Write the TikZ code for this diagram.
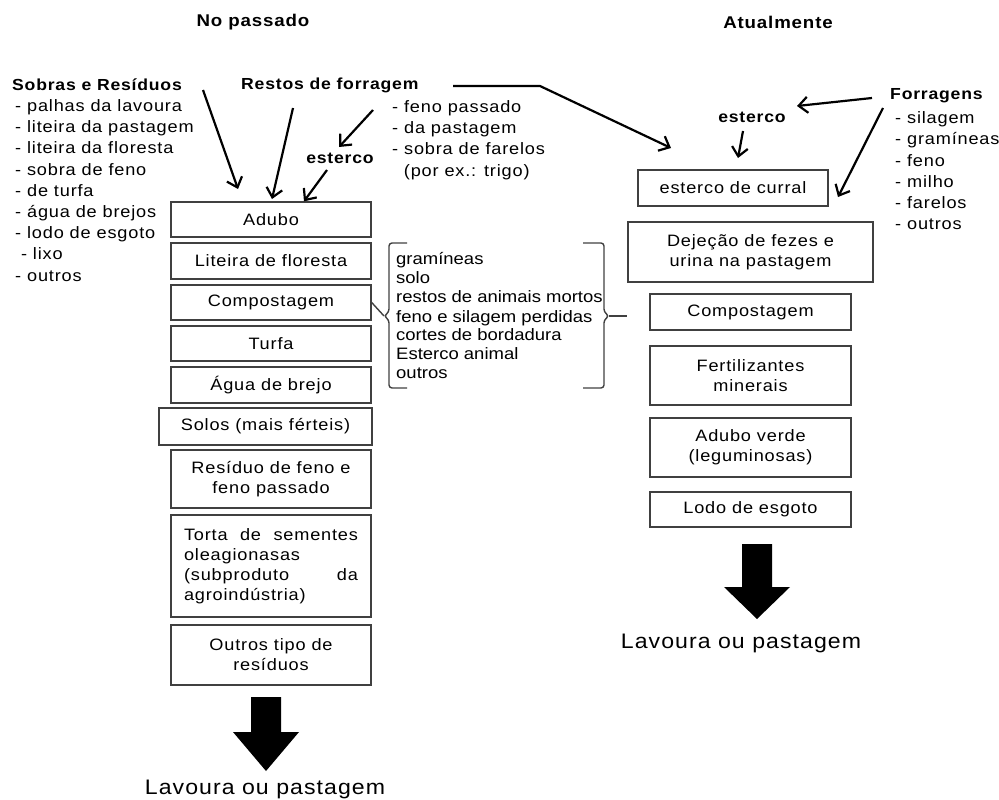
\documentclass[tikz,border=0pt]{standalone}
\usepackage{fontspec}
\setmainfont{Liberation Sans}[FakeStretch=1.1,LetterSpace=5]
\newfontfamily\tightfont{Liberation Sans}[FakeStretch=1.12]
\usetikzlibrary{arrows.meta}
\newcommand\hf{\hskip 0pt plus 1fill\relax}
\begin{document}
\begin{tikzpicture}[x=1pt,y=-1pt,
  box/.style={draw=black!75, line width=1.4pt, inner sep=2pt, align=center,
    font=\fontsize{16.5}{20}\selectfont},
  lst/.style={font=\fontsize{16.5}{21}\selectfont, inner sep=0pt, anchor=base west},
  brk/.style={font=\tightfont\fontsize{16.5}{19}\selectfont, inner sep=0pt, anchor=base west},
  hd/.style={font=\bfseries\fontsize{16}{19}\selectfont, inner sep=0pt},
  ttl/.style={font=\bfseries\fontsize{17}{20}\selectfont, inner sep=0pt},
  big/.style={font=\fontsize{21}{24}\selectfont, inner sep=0pt},
  arr/.style={line width=2.2pt, -{Straight Barb[length=9pt,width=16pt]}},
  lin/.style={line width=1.4pt, draw=black!75}]
\useasboundingbox (0,0) rectangle (999,800);

% titles
\node[ttl] (t1) at (253,22) {No passado};
\node[ttl] (t2) at (778,22) {Atualmente};

% left list
\node[hd, anchor=west] (sobras) at (12,85) {Sobras e Resíduos};
\foreach \t/\y [count=\i] in {{- palhas da lavoura}/105,{- liteira da pastagem}/126,
  {- liteira da floresta}/147,{- sobra de feno}/169,{- de turfa}/190,{- água de brejos}/211,
  {- lodo de esgoto}/232,{\ - lixo}/253,{- outros}/275}
  {\node[lst] (sob\i) at (15,\y+6) {\t};}

% restos de forragem
\node[hd, anchor=west] (restos) at (241,85) {Restos de forragem};
\foreach \t/\y [count=\i] in {{- feno passado}/107,{- da pastagem}/127,
  {- sobra de farelos}/148,{\ \ (por ex.: trigo)}/170}
  {\node[lst] (res\i) at (392,\y+6) {\t};}
\node[hd] (est1) at (340,158) {esterco};

% right labels
\node[hd] (est2) at (752,117) {esterco};
\node[hd, anchor=west] (forr) at (890,96) {Forragens};
\foreach \t/\y [count=\i] in {{- silagem}/117,{- gramíneas}/138,{- feno}/160,
  {- milho}/181,{- farelos}/202,{- outros}/223}
  {\node[lst] (for\i) at (895,\y+6) {\t};}

% left boxes
\node[box, minimum width=200pt, minimum height=35pt] (adubo) at (271,219.5) {Adubo};
\node[box, minimum width=200pt, minimum height=36pt] (lit) at (271,261) {Liteira de floresta};
\node[box, minimum width=200pt, minimum height=35pt] (comp1) at (271,302.5) {Compostagem};
\node[box, minimum width=200pt, minimum height=35pt] (turfa) at (271,343.5) {Turfa};
\node[box, minimum width=200pt, minimum height=36pt] (agua) at (271,385) {Água de brejo};
\node[box, minimum width=213pt, minimum height=37pt] (solos) at (265.5,426.5) {Solos (mais férteis)};
\node[box, minimum width=200pt, minimum height=58pt] (resid) at (271,479) {Resíduo de feno e\\feno passado};
\node[box, minimum width=200pt, minimum height=102pt, text width=174pt, align=left] (torta) at (271,566)
  {Torta\hf de\hf sementes\\oleagionasas\\(subproduto\hf da\\agroindústria)};
\node[box, minimum width=200pt, minimum height=60pt] (outros) at (271,655) {Outros tipo de\\resíduos};

% right boxes
\node[box, minimum width=190pt, minimum height=36pt] (curral) at (733,188) {esterco de curral};
\node[box, minimum width=245pt, minimum height=60pt] (dej) at (750.5,252) {Dejeção de fezes e\\urina na pastagem};
\node[box, minimum width=201pt, minimum height=36pt] (comp2) at (750.5,312) {Compostagem};
\node[box, minimum width=201pt, minimum height=59pt] (fert) at (750.5,375.5) {Fertilizantes\\minerais};
\node[box, minimum width=201pt, minimum height=59pt] (verde) at (750.5,447.5) {Adubo verde\\(leguminosas)};
\node[box, minimum width=201pt, minimum height=35pt] (lodo) at (750.5,509.5) {Lodo de esgoto};

% bracket list
\foreach \t/\y [count=\i] in {{gramíneas}/259,{solo}/278,{restos de animais mortos}/297,
  {feno e silagem perdidas}/317,{cortes de bordadura}/335,{Esterco animal}/354,{outros}/373}
  {\node[brk] (br\i) at (396,\y+5.5) {\t};}

% brackets
\coordinate (kl) at (384,316);
\coordinate (kr) at (609,316);
\coordinate (kre) at (627,316);
\draw[lin, rounded corners=3pt] (407,243) -- (389,243) -- (389,312) -- (kl) -- (389,320) -- (389,388) -- (407,388);
\draw[lin] (comp1.east) -- (kl);
\draw[lin, rounded corners=3pt] (583,243) -- (604,243) -- (604,312) -- (kr) -- (604,320) -- (604,388) -- (583,388);
\draw[lin] (kr) -- (kre);

% arrows, left
\coordinate (a1s) at (203,90);  \coordinate (a1e) at (238,189);
\coordinate (a2s) at (293,108); \coordinate (a2e) at (272,199);
\coordinate (a3s) at (373,110); \coordinate (a3e) at (339,147);
\coordinate (a4s) at (327,170); \coordinate (a4e) at (304,200);
\draw[arr] (a1s) -- (a1e);
\draw[arr] (a2s) -- (a2e);
\draw[arr] (a3s) -- (a3e);
\draw[arr] (a4s) -- (adubo.north -| a4e);
% long arrow
\coordinate (a5s) at (453,86); \coordinate (a5m) at (540,86); \coordinate (a5e) at (671,148);
\draw[arr] (a5s) -- (a5m) -- (a5e);
% right arrows
\coordinate (a6s) at (872,98);  \coordinate (a6e) at (797,106);
\coordinate (a7s) at (743,131); \coordinate (a7e) at (738,158);
\coordinate (a8s) at (883,108); \coordinate (a8e) at (838,197);
\draw[arr] (a6s) -- (a6e);
\draw[arr] (a7s) -- (a7e);
\draw[arr] (a8s) -- (a8e);

% big arrows
\fill (251,697) -- (281,697) -- (281,732) -- (299,732) -- (266,771) -- (233,732) -- (251,732) -- cycle;
\fill (742,544) -- (772,544) -- (772,587) -- (790,587) -- (757,619) -- (724,587) -- (742,587) -- cycle;

\node[big] (lav1) at (265,789) {Lavoura ou pastagem};
\node[big] (lav2) at (741,643) {Lavoura ou pastagem};
\end{tikzpicture}
\end{document}
